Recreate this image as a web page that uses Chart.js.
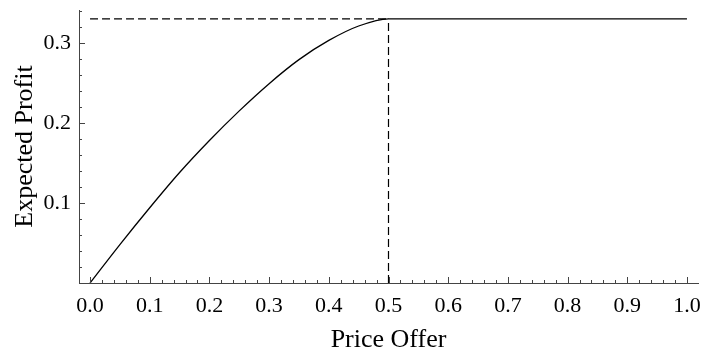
<!DOCTYPE html>
<html>
<head>
<meta charset="utf-8">
<script src="https://cdn.jsdelivr.net/npm/chart.js@4.4.1/dist/chart.umd.min.js"></script>
<style>
  html, body { margin: 0; padding: 0; background: #fff; }
  #wrap { width: 704px; height: 356px; }
</style>
</head>
<body>
<div id="wrap"><canvas id="c" width="704" height="356"></canvas></div>
<script>
// Expected profit as a function of the price offer
const priceOffer     = [0, 0.05, 0.10, 0.15, 0.20, 0.25, 0.30, 0.35, 0.40, 0.45, 0.50, 1.00];
const expectedProfit = [0, 0.048, 0.094, 0.138, 0.178, 0.215, 0.249, 0.279, 0.303, 0.321, 0.330, 0.330];

// Optimal offer and the profit it yields (reference lines)
const optimalOffer = 0.5;
const maxProfit = 0.33;

// Labelled ticks
const xTickValues = [0.0, 0.1, 0.2, 0.3, 0.4, 0.5, 0.6, 0.7, 0.8, 0.9, 1.0];
const yTickValues = [0.1, 0.2, 0.3];
const minorStep = 0.02;

const FONT = "'Liberation Serif', 'Times New Roman', serif";
const AXIS_COLOR = '#444';

// Inward-pointing major and minor tick marks along both axes
const innerTicks = {
  id: 'innerTicks',
  afterDraw(chart) {
    const { ctx, chartArea, scales } = chart;
    const xs = scales.x, ys = scales.y;
    ctx.save();
    ctx.strokeStyle = AXIS_COLOR;
    ctx.lineWidth = 1;
    ctx.beginPath();
    for (let i = 0; i <= 50; i++) {
      const v = i * minorStep;
      const major = i % 5 === 0;
      const px = Math.round(xs.getPixelForValue(v)) + 0.5;
      ctx.moveTo(px, chartArea.bottom);
      ctx.lineTo(px, chartArea.bottom - (major ? 6 : 3));
    }
    for (let i = 1; i <= 17; i++) {
      const v = i * minorStep;
      const major = i % 5 === 0;
      const py = Math.round(ys.getPixelForValue(v)) + 0.5;
      ctx.moveTo(chartArea.left, py);
      ctx.lineTo(chartArea.left + (major ? 6 : 3), py);
    }
    ctx.stroke();
    ctx.restore();
  }
};

const dashed = [8, 4];

new Chart(document.getElementById('c'), {
  type: 'line',
  data: {
    datasets: [
      {
        label: 'Expected Profit',
        data: priceOffer.map((p, i) => ({ x: p, y: expectedProfit[i] })),
        borderColor: '#000',
        borderWidth: 1.3,
        pointRadius: 0,
        cubicInterpolationMode: 'monotone',
        fill: false
      },
      {
        label: 'max profit',
        data: [{ x: 0, y: maxProfit }, { x: optimalOffer, y: maxProfit }],
        borderColor: '#000',
        borderWidth: 1.2,
        borderDash: dashed,
        pointRadius: 0,
        fill: false
      },
      {
        label: 'optimal offer',
        data: [{ x: optimalOffer, y: 0 }, { x: optimalOffer, y: maxProfit }],
        borderColor: '#000',
        borderWidth: 1.2,
        borderDash: dashed,
        pointRadius: 0,
        fill: false
      }
    ]
  },
  options: {
    responsive: false,
    animation: false,
    events: [],
    layout: { padding: { top: 10, right: 6, left: 0, bottom: 0 } },
    plugins: {
      legend: { display: false },
      tooltip: { enabled: false }
    },
    scales: {
      x: {
        type: 'linear',
        min: -0.0185,
        max: 1.0185,
        afterBuildTicks(scale) { scale.ticks = xTickValues.map(v => ({ value: v })); },
        afterFit(scale) { scale.height = 73; scale.paddingLeft = 0; scale.paddingRight = 0; },
        grid: { display: false, drawTicks: false },
        border: { display: true, color: AXIS_COLOR, width: 1 },
        ticks: {
          color: '#000',
          font: { family: FONT, size: 22 },
          padding: 10,
          maxRotation: 0,
          autoSkip: false,
          callback: v => v.toFixed(1)
        },
        title: {
          display: true,
          text: 'Price Offer',
          color: '#000',
          font: { family: FONT, size: 26 },
          padding: { top: 6, bottom: 0 }
        }
      },
      y: {
        type: 'linear',
        min: 0,
        max: 0.341,
        afterBuildTicks(scale) { scale.ticks = yTickValues.map(v => ({ value: v })); },
        afterFit(scale) { scale.width = 79; scale.paddingTop = 0; scale.paddingBottom = 0; },
        grid: { display: false, drawTicks: false },
        border: { display: true, color: AXIS_COLOR, width: 1 },
        ticks: {
          color: '#000',
          font: { family: FONT, size: 22 },
          padding: 8,
          autoSkip: false,
          callback: v => v.toFixed(1)
        },
        title: {
          display: true,
          text: 'Expected Profit',
          color: '#000',
          font: { family: FONT, size: 26 },
          padding: { top: 10, bottom: 0 }
        }
      }
    }
  },
  plugins: [innerTicks]
});
</script>
</body>
</html>
